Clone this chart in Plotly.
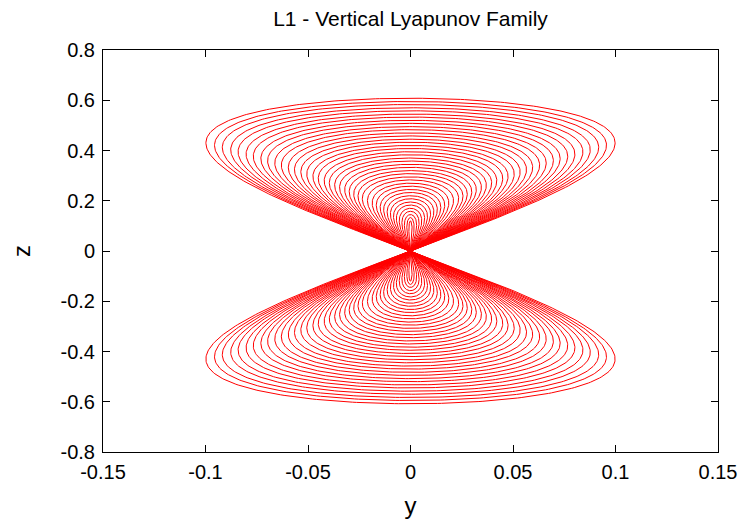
import numpy as np
import plotly.graph_objects as go

# amplitudes of each orbit in the family
z_amp = [0.120, 0.133, 0.145, 0.158, 0.170, 0.183, 0.195, 0.208, 0.220, 0.233,
         0.245, 0.258, 0.270, 0.283, 0.295, 0.308, 0.320, 0.333, 0.345, 0.358,
         0.370, 0.383, 0.395, 0.408, 0.420, 0.433, 0.445, 0.458, 0.470, 0.483,
         0.495, 0.508, 0.520, 0.533, 0.545, 0.558, 0.570, 0.583, 0.595, 0.608]
y_amp = [0.0008, 0.0018, 0.0030, 0.0042, 0.0055, 0.0069, 0.0083, 0.0098, 0.0114, 0.0131,
         0.0148, 0.0167, 0.0187, 0.0210, 0.0235, 0.0256, 0.0277, 0.0299, 0.0321, 0.0346,
         0.0370, 0.0396, 0.0421, 0.0450, 0.0476, 0.0506, 0.0535, 0.0566, 0.0596, 0.0630,
         0.0662, 0.0697, 0.0730, 0.0767, 0.0802, 0.0841, 0.0877, 0.0918, 0.0956, 0.0998]

x_ticks = [-0.15, -0.1, -0.05, 0, 0.05, 0.1, 0.15]
x_labels = ["-0.15", "-0.1", "-0.05", "0", "0.05", "0.1", "0.15"]
z_ticks = [-0.8, -0.6, -0.4, -0.2, 0, 0.2, 0.4, 0.6, 0.8]
z_labels = ["-0.8", "-0.6", "-0.4", "-0.2", "0", "0.2", "0.4", "0.6", "0.8"]

theta = np.linspace(0, 2 * np.pi, 600)

fig = go.Figure()
for a_z, a_y in zip(z_amp, y_amp):
    fig.add_scatter(
        x=a_y * np.sin(2 * theta),
        y=a_z * np.sin(theta),
        mode="lines",
        line=dict(color="#ff0000", width=1),
        showlegend=False,
        hoverinfo="skip",
    )

axis_style = dict(
    showline=True,
    linecolor="black",
    linewidth=1,
    mirror="ticks",
    ticks="inside",
    ticklen=7,
    tickcolor="black",
    showgrid=False,
    zeroline=False,
    automargin=False,
)

# the page body adds an 8px offset, so the figure is sized to the remaining window
fig.update_layout(
    width=738,
    height=511,
    plot_bgcolor="white",
    paper_bgcolor="white",
    font=dict(family="Liberation Sans, Arial, sans-serif", size=20, color="black"),
    margin=dict(l=95, r=28, t=42, b=67),
    title=dict(text="L1 - Vertical Lyapunov Family", xref="paper", x=0.5, xanchor="center",
               y=0.9785, yanchor="middle", font=dict(size=21)),
    xaxis=dict(range=[-0.15, 0.15], tickvals=x_ticks, ticktext=x_labels,
               ticklabelstandoff=2,
               title=dict(text="y", standoff=15), **axis_style),
    yaxis=dict(range=[-0.8, 0.8], tickvals=z_ticks, ticktext=z_labels,
               ticklabelstandoff=3,
               title=dict(text="z", standoff=33), **axis_style),
)

fig.write_html("out.html")
